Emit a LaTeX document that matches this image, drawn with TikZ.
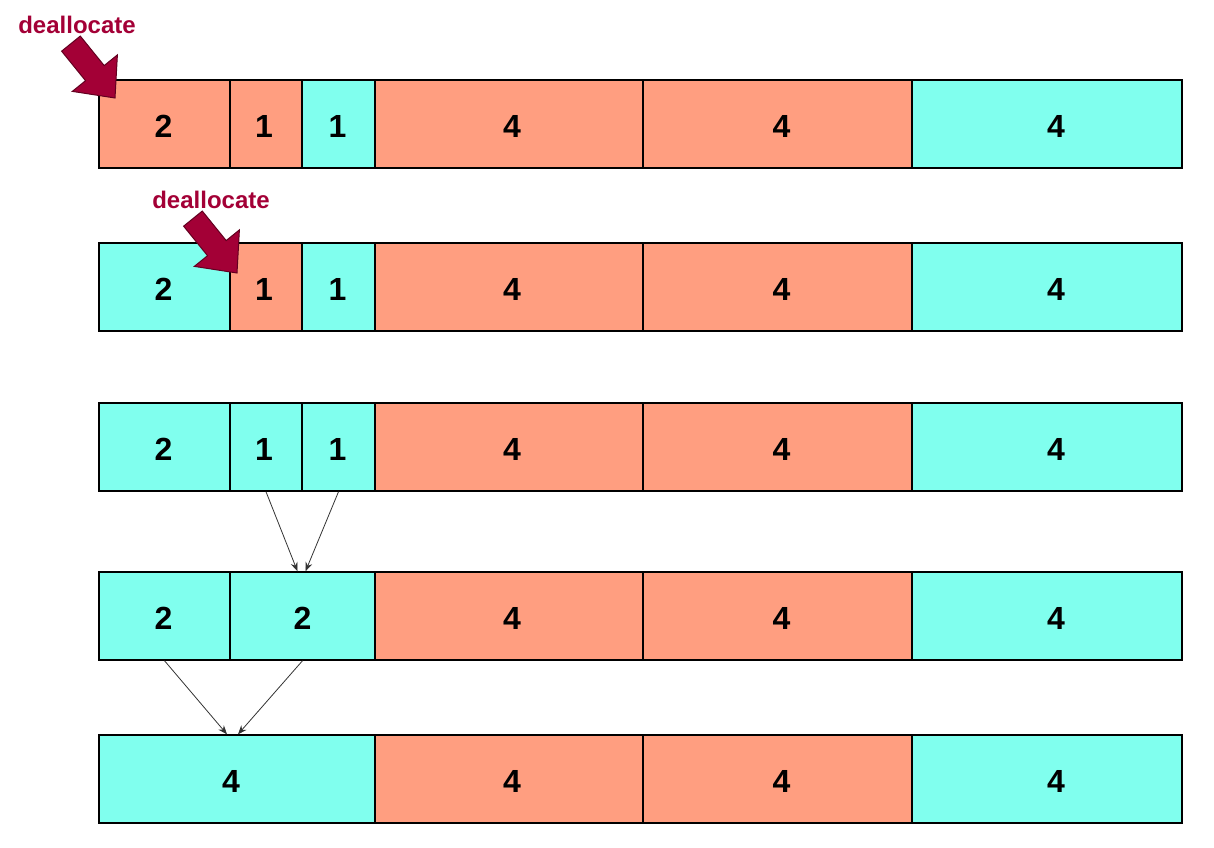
\documentclass[tikz,border=0pt]{standalone}
\usepackage{fontspec}
\setmainfont{Liberation Sans}
\usetikzlibrary{arrows.meta}
\definecolor{MemUsed}{HTML}{FF9E80}
\definecolor{MemFree}{HTML}{80FFEE}
\definecolor{MemMark}{HTML}{A30036}

\begin{document}
\begin{tikzpicture}[x=1pt,y=-1pt,
  cell/.style={draw=black,line width=1.4pt,minimum height=88pt,inner sep=0pt},
  size/.style={font=\fontsize{32}{32}\selectfont\bfseries},
  merge/.style={-{Stealth[length=9pt,width=7pt]},draw=black!80,line width=0.8pt},
  marklabel/.style={text=MemMark,font=\fontsize{24}{24}\selectfont\bfseries}]
\path[use as bounding box] (0,0) rectangle (1214,847);
% rows of blocks: left/right/colour/size/text shift
\foreach \r/\y/\cells in {
  1/124/{99/230/MemUsed/2/-1,230/302/MemUsed/1/-2,302/375/MemFree/1/-1,375/643/MemUsed/4/3,643/912/MemUsed/4/4,912/1182/MemFree/4/9},
  2/287/{99/230/MemFree/2/-1,230/302/MemUsed/1/-2,302/375/MemFree/1/-1,375/643/MemUsed/4/3,643/912/MemUsed/4/4,912/1182/MemFree/4/9},
  3/447/{99/230/MemFree/2/-1,230/302/MemFree/1/-2,302/375/MemFree/1/-1,375/643/MemUsed/4/3,643/912/MemUsed/4/4,912/1182/MemFree/4/9},
  4/616/{99/230/MemFree/2/-1,230/375/MemFree/2/0,375/643/MemUsed/4/3,643/912/MemUsed/4/4,912/1182/MemFree/4/9},
  5/779/{99/375/MemFree/4/-6,375/643/MemUsed/4/3,643/912/MemUsed/4/4,912/1182/MemFree/4/9}}
  \foreach \a/\b/\c/\t/\dx [count=\k] in \cells {
    \node[cell,fill=\c,minimum width={(\b-\a)*1pt}] (r\r-\k) at ({(\a+\b)/2},\y) {};
    \node[size] (t\r-\k) at ([shift={(\dx,2)}]r\r-\k.center) {\t};
  }
% buddies merging
\draw[merge] (r3-2.south) -- ([xshift=-5pt]r4-2.north);
\draw[merge] (r3-3.south) -- ([xshift=3pt]r4-2.north);
\draw[merge] (r4-1.south) -- ([xshift=-10pt]r5-1.north);
\draw[merge] (r4-2.south) -- ([xshift=1pt]r5-1.north);
% deallocate markers
\node[marklabel] (lab1) at (77,25) {deallocate};
\node[marklabel] (lab2) at (211,200) {deallocate};
\foreach \tx/\ty in {115/98,237/273}
  \filldraw[fill=MemMark,draw=MemMark!60!black,line width=1pt,shift={(\tx,\ty)},rotate=-51]
    (0,0) -- (-32,29) -- (-32,12) -- (-70,12) -- (-70,-12) -- (-32,-12) -- (-32,-29) -- cycle;
\end{tikzpicture}
\end{document}
